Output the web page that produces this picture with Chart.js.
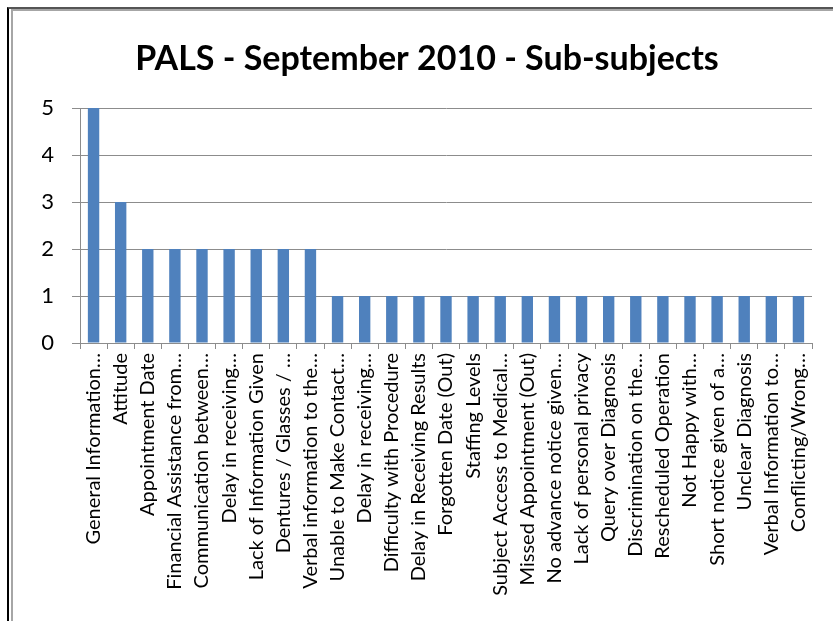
<!DOCTYPE html>
<html>
<head>
<meta charset="utf-8">
<script src="https://cdn.jsdelivr.net/npm/chart.js@4.4.0/dist/chart.umd.min.js"></script>
<style>
  body { margin: 0; background: #fff; overflow: hidden; }
  #frame1 { position: absolute; left: 7px; top: 7px; width: 900px; height: 700px;
            border-left: 2px solid #000; border-top: 2px solid #555; }
  #frame2 { position: absolute; left: 11px; top: 9px; width: 900px; height: 700px;
            border-left: 2px solid #a6a6a6; border-top: 2px solid #a6a6a6; }
  #wrap { position: absolute; left: 0; top: 0; width: 833px; height: 621px; }
</style>
</head>
<body>
<div id="frame1"></div>
<div id="frame2"></div>
<div id="wrap"><canvas id="myChart" width="833" height="621"></canvas></div>
<script>
var categories = [
  'General Information…', 'Attitude', 'Appointment Date', 'Financial Assistance from…',
  'Communication between…', 'Delay in receiving…', 'Lack of Information Given',
  'Dentures / Glasses / …', 'Verbal information to the…', 'Unable to Make Contact…',
  'Delay in receiving…', 'Difficulty with Procedure', 'Delay in Receiving Results',
  'Forgotten Date (Out)', 'Staffing Levels', 'Subject Access to Medical…',
  'Missed Appointment (Out)', 'No advance notice given…', 'Lack of personal privacy',
  'Query over Diagnosis', 'Discrimination on the…', 'Rescheduled Operation',
  'Not Happy with…', 'Short notice given of a…', 'Unclear Diagnosis',
  'Verbal Information to…', 'Conflicting/Wrong…'
];
var counts = [5, 3, 2, 2, 2, 2, 2, 2, 2, 1, 1, 1, 1, 1, 1, 1, 1, 1, 1, 1, 1, 1, 1, 1, 1, 1, 1];
var yTicks = [0, 1, 2, 3, 4, 5];

var fontFamily = 'Lato, "Liberation Sans", sans-serif';
var gridGray = '#8c8c8c';

var ctx = document.getElementById('myChart').getContext('2d');
var myChart = new Chart(ctx, {
    type: 'bar',
    data: {
        labels: categories,
        datasets: [{
            label: 'Sub-subjects',
            data: counts,
            backgroundColor: '#4f81bd',
            borderWidth: 0,
            categoryPercentage: 1,
            barPercentage: 0.42
        }]
    },
    options: {
        responsive: false,
        animation: false,
        // left padding shifts the title centre right, y axis width makes up the rest
        layout: { padding: { left: 42, right: 21, top: 0, bottom: 0 } },
        plugins: {
            legend: { display: false },
            tooltip: { enabled: false },
            title: {
                display: true,
                text: 'PALS - September 2010 - Sub-subjects',
                color: '#000',
                font: { family: fontFamily, size: 34, weight: 'bold' },
                padding: { top: 39, bottom: 28.2 }
            }
        },
        scales: {
            x: {
                offset: true,
                grid: { display: true, offset: true, drawOnChartArea: false, color: gridGray, tickLength: 6 },
                border: { display: true, color: gridGray },
                ticks: {
                    color: '#000', autoSkip: false, maxRotation: 90, minRotation: 90, padding: 4,
                    font: { family: fontFamily, size: 20 }
                },
                afterFit: function(scale) { scale.height = 278; }
            },
            y: {
                min: 0, max: 5,
                afterBuildTicks: function(scale) {
                    scale.ticks = yTicks.map(function(v) { return { value: v }; });
                },
                grid: { color: gridGray, tickLength: 8 },
                border: { display: true, color: gridGray },
                ticks: {
                    color: '#000', padding: 18,
                    font: { family: fontFamily, size: 22 }
                },
                afterFit: function(scale) { scale.width = 38; }
            }
        }
    }
});
</script>
</body>
</html>
